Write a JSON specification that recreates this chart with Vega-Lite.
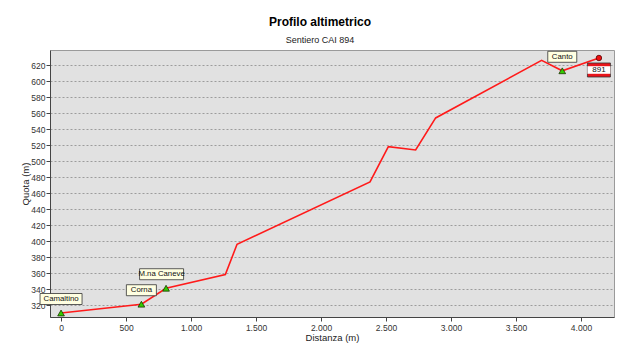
{
  "$schema": "https://vega.github.io/schema/vega-lite/v6.json",
  "width": 564,
  "height": 267,
  "autosize": "none",
  "padding": {"left": 50, "top": 50, "right": 26, "bottom": 40},
  "background": "white",
  "title": {
    "text": "Profilo altimetrico",
    "subtitle": "Sentiero CAI 894",
    "anchor": "middle",
    "dx": -12,
    "offset": 4,
    "font": "Liberation Sans",
    "fontSize": 12,
    "fontWeight": "bold",
    "color": "#000000",
    "subtitleFont": "Liberation Sans",
    "subtitleFontSize": 9,
    "subtitleColor": "#222222",
    "subtitlePadding": 7
  },
  "config": {
    "locale": {"number": {"decimal": ",", "thousands": ".", "grouping": [3], "currency": ["", " €"]}},
    "view": {"fill": "#e1e1e1", "stroke": "#9a9a9a", "strokeWidth": 1},
    "axis": {
      "labelFont": "Liberation Sans",
      "labelFontSize": 8.5,
      "labelColor": "#333333",
      "titleFont": "Liberation Sans",
      "titleFontSize": 9.5,
      "titleFontWeight": "normal",
      "titleColor": "#222222",
      "domainColor": "#444444",
      "tickColor": "#444444",
      "tickSize": 4
    }
  },
  "datasets": {
    "profile": [
      {"dist": 0, "quota": 310},
      {"dist": 618, "quota": 321},
      {"dist": 808, "quota": 341},
      {"dist": 1264, "quota": 358},
      {"dist": 1354, "quota": 396},
      {"dist": 2377, "quota": 474},
      {"dist": 2518, "quota": 518},
      {"dist": 2728, "quota": 514},
      {"dist": 2882, "quota": 554},
      {"dist": 3697, "quota": 626},
      {"dist": 3856, "quota": 613},
      {"dist": 4138, "quota": 629}
    ],
    "waypoints": [
      {"dist": 0, "quota": 310, "nome": "Camaltino"},
      {"dist": 618, "quota": 321, "nome": "Corna"},
      {"dist": 808, "quota": 341, "nome": "M.na Caneve"},
      {"dist": 3856, "quota": 613, "nome": "Canto"}
    ],
    "fine": [
      {"dist": 4138, "quota": 629, "sentiero": "891"}
    ]
  },
  "encoding": {
    "x": {
      "field": "dist", "type": "quantitative",
      "scale": {"domain": [-85, 4254], "nice": false, "zero": false},
      "axis": {"title": "Distanza (m)", "values": [0, 500, 1000, 1500, 2000, 2500, 3000, 3500, 4000], "format": ",d", "grid": false, "labelPadding": 2, "titlePadding": 1}
    },
    "y": {
      "field": "quota", "type": "quantitative",
      "scale": {"domain": [305, 639], "nice": false, "zero": false},
      "axis": {"title": "Quota (m)", "values": [320, 340, 360, 380, 400, 420, 440, 460, 480, 500, 520, 540, 560, 580, 600, 620], "grid": true, "gridColor": "#9c9c9c", "gridDash": [2, 2], "gridWidth": 1, "labelPadding": 1, "titlePadding": 0}
    }
  },
  "layer": [
    {
      "data": {"name": "profile"},
      "mark": {"type": "line", "color": "#ff1a1a", "strokeWidth": 1.6}
    },
    {
      "data": {"name": "waypoints"},
      "mark": {"type": "point", "shape": "triangle-up", "filled": true, "fill": "#33cc00", "stroke": "#1a3300", "strokeWidth": 0.8, "size": 45, "opacity": 1}
    },
    {
      "data": {"name": "waypoints"},
      "mark": {"type": "point", "filled": true, "fill": "#ffffe1", "stroke": "#333333", "strokeWidth": 0.8, "size": 400, "yOffset": -14, "opacity": 1},
      "encoding": {
        "shape": {
          "field": "nome", "type": "nominal", "legend": null,
          "scale": {
            "domain": ["Camaltino", "Corna", "M.na Caneve", "Canto"],
            "range": ["M-2.1,-0.55H2.1V0.55H-2.1Z", "M-1.5,-0.55H1.5V0.55H-1.5Z", "M-2.65,-0.55H1.75V0.55H-2.65Z", "M-1.45,-0.55H1.45V0.55H-1.45Z"]
          }
        }
      }
    },
    {
      "data": {"name": "waypoints"},
      "transform": [{"filter": "datum.nome !== 'M.na Caneve'"}],
      "mark": {"type": "text", "font": "Liberation Sans", "fontSize": 7.8, "color": "#111111", "baseline": "middle", "align": "center", "yOffset": -14},
      "encoding": {"text": {"field": "nome"}}
    },
    {
      "data": {"name": "waypoints"},
      "transform": [{"filter": "datum.nome === 'M.na Caneve'"}],
      "mark": {"type": "text", "font": "Liberation Sans", "fontSize": 7.8, "color": "#111111", "baseline": "middle", "align": "center", "yOffset": -14, "xOffset": -4.5},
      "encoding": {"text": {"field": "nome"}}
    },
    {
      "data": {"name": "fine"},
      "mark": {"type": "point", "shape": "circle", "filled": true, "fill": "#ee1111", "stroke": "#550000", "strokeWidth": 0.8, "size": 30, "opacity": 1}
    },
    {
      "data": {"name": "fine"},
      "mark": {"type": "point", "shape": "M-1.15,-0.7H1.15V0.7H-1.15Z", "filled": true, "fill": "#e8141b", "stroke": "#333333", "strokeWidth": 0.8, "size": 400, "yOffset": 12, "opacity": 1}
    },
    {
      "data": {"name": "fine"},
      "mark": {"type": "point", "shape": "M-1.15,-0.38H1.15V0.38H-1.15Z", "filled": true, "fill": "#ffffff", "strokeWidth": 0, "size": 400, "yOffset": 12, "opacity": 1}
    },
    {
      "data": {"name": "fine"},
      "mark": {"type": "text", "font": "Liberation Sans", "fontSize": 8, "color": "#111111", "baseline": "middle", "align": "center", "yOffset": 12},
      "encoding": {"text": {"field": "sentiero"}}
    }
  ]
}
